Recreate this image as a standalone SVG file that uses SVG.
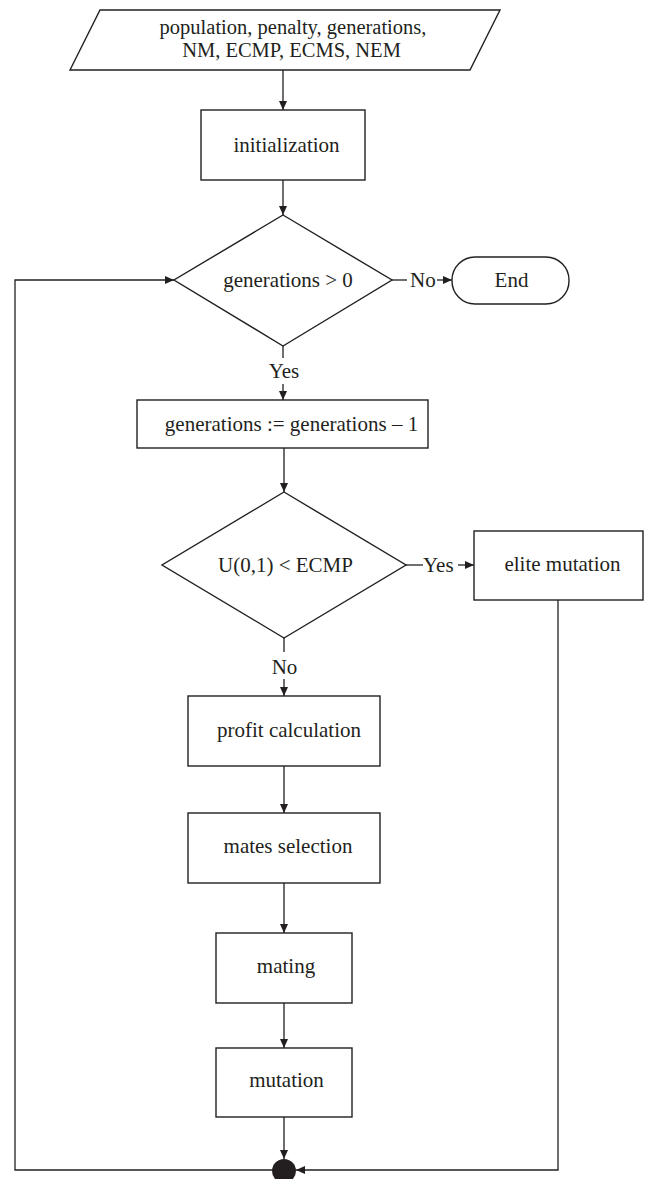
<svg xmlns="http://www.w3.org/2000/svg" width="651" height="1179" viewBox="0 0 651 1179">
<defs>
<marker id="ah" markerWidth="9" markerHeight="8" refX="9" refY="4" orient="auto" markerUnits="userSpaceOnUse">
<path d="M0,0 L9,4 L0,8 z" fill="#231f20"/>
</marker>
<style>
.s{fill:#fff;stroke:#231f20;stroke-width:1.4}
.c{fill:none;stroke:#231f20;stroke-width:1.3}
.a{marker-end:url(#ah)}
text{font-family:"Liberation Serif","Times New Roman",serif;font-size:21px;fill:#231f20}
.m{text-anchor:middle}
.p{font-size:20.5px}
</style>
</defs>
<rect width="651" height="1179" fill="#fff"/>
<g id="connectors">
<line class="c a" x1="283" y1="70" x2="283" y2="110"/>
<line class="c a" x1="283" y1="180" x2="283" y2="215"/>
<line class="c" x1="392" y1="280" x2="407" y2="280"/>
<line class="c a" x1="437" y1="280" x2="452" y2="280"/>
<text x="410" y="287">No</text>
<line class="c" x1="283" y1="346" x2="283" y2="358"/>
<text class="m" x="284" y="378">Yes</text>
<line class="c a" x1="283" y1="384" x2="283" y2="400"/>
<line class="c a" x1="284" y1="448" x2="284" y2="492"/>
<line class="c" x1="406" y1="565" x2="423" y2="565"/>
<text x="423" y="572">Yes</text>
<line class="c a" x1="458" y1="565" x2="474" y2="565"/>
<line class="c" x1="284" y1="638" x2="284" y2="652"/>
<text class="m" x="284.5" y="674">No</text>
<line class="c a" x1="284" y1="679" x2="284" y2="696"/>
<line class="c a" x1="284" y1="766" x2="284" y2="813"/>
<line class="c a" x1="284" y1="883" x2="284" y2="933"/>
<line class="c a" x1="284" y1="1003" x2="284" y2="1048"/>
<line class="c a" x1="284" y1="1117" x2="284" y2="1159"/>
<polyline class="c a" points="558,600 558,1170 296,1170"/>
<polyline class="c a" points="272,1170 15,1170 15,280 174,280"/>
<circle cx="284" cy="1171" r="12" fill="#231f20"/>
</g>
<g id="input">
<polygon class="s" points="100,10 500,10 470,70 70,70"/>
<text class="m p" x="293" y="34">population, penalty, generations,</text>
<text class="m p" x="291.5" y="57">NM, ECMP, ECMS, NEM</text>
</g>
<g id="initialization">
<rect class="s" x="201" y="110" width="164" height="70"/>
<text class="m" x="286.5" y="152">initialization</text>
</g>
<g id="cond-generations">
<polygon class="s" points="283,215 392,280 283,346 174,280"/>
<text class="m" x="288" y="287">generations &gt; 0</text>
</g>
<g id="end">
<rect class="s" x="452" y="257" width="117" height="47" rx="23" ry="23"/>
<text class="m" x="511.5" y="287">End</text>
</g>
<g id="decrement">
<rect class="s" x="137" y="400" width="291" height="48"/>
<text class="m" x="291.5" y="431">generations := generations – 1</text>
</g>
<g id="cond-ecmp">
<polygon class="s" points="284,492 406,565 284,638 162,565"/>
<text class="m" x="285.5" y="572">U(0,1) &lt; ECMP</text>
</g>
<g id="elite-mutation">
<rect class="s" x="474" y="531" width="169" height="69"/>
<text class="m" x="562.5" y="571">elite mutation</text>
</g>
<g id="profit-calculation">
<rect class="s" x="188" y="696" width="192" height="70"/>
<text class="m" x="289" y="737">profit calculation</text>
</g>
<g id="mates-selection">
<rect class="s" x="188" y="813" width="192" height="70"/>
<text class="m" x="288" y="853">mates selection</text>
</g>
<g id="mating">
<rect class="s" x="216" y="933" width="136" height="70"/>
<text class="m" x="286" y="973">mating</text>
</g>
<g id="mutation">
<rect class="s" x="216" y="1048" width="136" height="69"/>
<text class="m" x="286.5" y="1087">mutation</text>
</g>
</svg>
